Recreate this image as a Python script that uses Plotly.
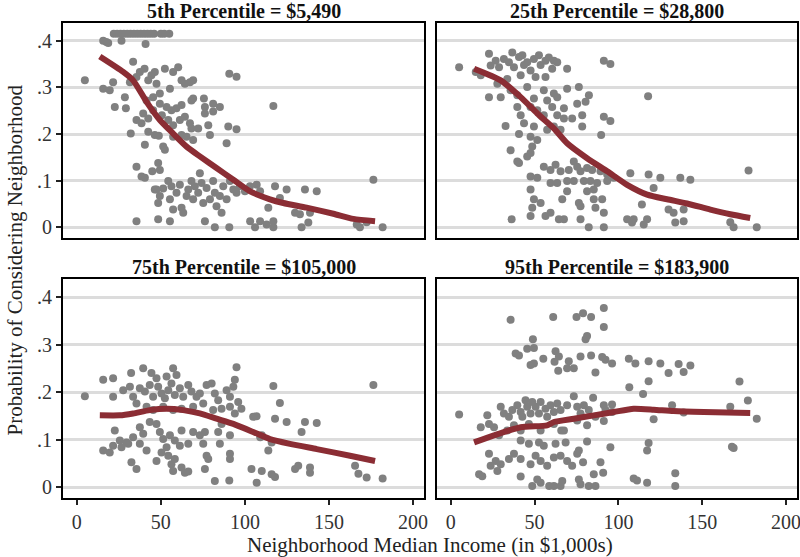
import plotly.graph_objects as go

# ---------------- data ----------------
panel_titles = ["5th Percentile = $5,490", "25th Percentile = $28,800",
                "75th Percentile = $105,000", "95th Percentile = $183,900"]

x_ticks = [0, 50, 100, 150, 200]
y_ticks = [0, 0.1, 0.2, 0.3, 0.4]
y_tick_labels = ["0", ".1", ".2", ".3", ".4"]

# scatter points (neighborhood median income in $1,000s, probability)
p5_points = [
    (22, .415), (24, .415), (26, .415), (28, .415), (30, .415), (32, .415), (34, .415), (36, .415),
    (38, .415), (40, .415), (42, .415), (44, .415), (46, .415), (50, .415), (52, .415), (55, .415),
    (15.7, .40), (17.6, .397), (18.7, .395), (26.6, .40), (40.9, .393), (4.8, .315), (33.5, .355),
    (15.7, .297), (19.6, .294), (21.6, .311), (22.6, .258), (28.6, .279), (29.2, .255), (31.6, .311),
    (35.5, .322), (37.5, .333), (40.3, .34), (42.5, .315), (44.4, .326), (46.4, .333), (47.4, .308),
    (49.4, .287), (52.4, .34), (55.4, .297), (57.3, .333), (60.3, .343), (62.3, .315), (64.3, .308),
    (67.3, .311), (69.2, .315), (41.5, .272), (45.4, .279), (49.4, .265), (53.4, .258), (56.3, .251),
    (59.3, .255), (62.3, .262), (68.2, .272), (69.2, .276), (75.6, .276), (76.2, .258), (81.1, .265),
    (85.1, .258), (90.7, .329), (95, .323), (116.9, .26), (39.5, .244), (42.5, .233), (45.4, .251),
    (50.6, .240), (54.4, .230), (57.3, .219), (61.3, .230), (64.3, .237), (67.3, .223), (68.2, .212),
    (72.2, .212), (76.2, .244), (78.2, .219), (79.2, .198), (81.1, .248), (90.1, .216), (95, .21),
    (89.1, .18), (32.1, .201), (35.5, .230), (38.5, .223), (42.5, .205), (46.4, .198), (48.8, .196),
    (57.3, .194), (62.3, .198), (65.3, .194), (69.2, .187), (40.5, .177), (51.4, .173), (52.4, .166),
    (35.5, .130), (38.5, .109), (40.5, .106), (44.9, .12), (48.4, .138), (49.4, .123), (73.2, .116),
    (47.4, .081), (49.4, .067), (48.4, .052), (51.4, .083), (54.4, .099), (55.4, .060), (56.3, .088),
    (57.3, .038), (59.3, .074), (61.3, .091), (62.3, .042), (63.3, .031), (65.3, .067), (66.3, .081),
    (68.2, .099), (69.2, .060), (70.2, .088), (72.2, .074), (74.2, .095), (75.2, .052), (77.2, .084),
    (79.2, .060), (81.1, .099), (82.1, .074), (83.1, .045), (85.1, .067), (86.1, .031), (87.1, .088),
    (89.1, .060), (91.1, .099), (93.1, .081), (95, .074), (97, .088), (100, .077), (103, .088),
    (107, .091), (109, .077), (113.9, .042), (117.9, .088), (120.8, .063), (124.8, .081), (129.8, .031),
    (132.7, .028), (135.7, .081), (138.7, .031), (142.7, .077), (176.4, .102), (46.4, .081),
    (35.5, .013), (48.4, .017), (55.4, .013), (76.2, .013), (82.1, 0), (90.7, 0), (103.1, .013),
    (106, 0), (109, .013), (112.9, .006), (116.9, .013), (116.9, 0), (133.7, 0), (137.7, .01),
    (166.5, .006), (168.4, 0), (172.4, .011), (181.9, 0),
]
p25_points = [
    (5, .343), (14.9, .333), (17.9, .326), (22.8, .372), (23.8, .347), (26.8, .357), (28.8, .343),
    (31.7, .361), (34.7, .354), (36.7, .375), (37.7, .343), (40.7, .365), (42.7, .369), (43.7, .348),
    (45.6, .354), (47.6, .336), (49.6, .361), (52.6, .369), (53.6, .348), (56.5, .357), (58.5, .364),
    (60.5, .340), (61.5, .357), (63.5, .354), (69.4, .340), (91.3, .357), (95.2, .350), (27.8, .308),
    (33.7, .318), (41.7, .326), (50.6, .322), (56.5, .322), (22.8, .279), (29.8, .279), (35.7, .294),
    (39.7, .283), (45.6, .301), (49.6, .276), (55.5, .294), (57.5, .272), (61.5, .287), (63.5, .279),
    (69.4, .297), (76.4, .301), (80.4, .269), (82.4, .283), (117.7, .281), (39.7, .258), (41.7, .240),
    (47.6, .258), (51.6, .251), (55.5, .240), (60.5, .258), (63.5, .240), (67.5, .255), (67.5, .233),
    (72.4, .233), (75.4, .265), (78.4, .240), (78.4, .216), (32.7, .217), (43.7, .223), (49.6, .216),
    (57.5, .209), (61.5, .216), (65.5, .209), (91.3, .237), (95.2, .228), (89.7, .198), (40.7, .200),
    (47.6, .194), (51.6, .187), (48.6, .173), (47.6, .159), (45.6, .152), (35.7, .165), (39.7, .141),
    (40.7, .138), (73.4, .141), (55.5, .130), (59.5, .123), (62.5, .134), (65.5, .120), (70.4, .123),
    (75.4, .130), (77.4, .120), (81.3, .127), (84.3, .123), (89.3, .120), (93.3, .113), (97.2, .106),
    (107.1, .116), (118, .113), (125, .106), (136.9, .106), (142.9, .102), (177.6, .122), (47.6, .109),
    (51.6, .106), (59.5, .095), (63.5, .095), (69.4, .099), (73.4, .099), (79.4, .099), (83.3, .099),
    (87.3, .095), (93.3, .099), (47.6, .081), (69.4, .077), (81.3, .077), (85.3, .081), (121, .084),
    (49.6, .060), (53.6, .052), (66.5, .060), (76.4, .052), (85.3, .060), (90.3, .060), (48.6, .042),
    (77.4, .045), (86.3, .042), (114, .049), (129.9, .038), (132.9, .031), (138.9, .038), (47.6, .024),
    (56.5, .024), (59.5, .031), (64.5, .017), (67.5, .017), (77.4, .017), (91.3, .031), (105.2, .017),
    (109.1, .017), (117.1, .017), (133.9, .01), (138.9, .013), (166.7, .011), (168.7, 0), (182.5, 0),
    (36.3, .017), (82.3, 0), (91.3, 0), (108.1, .01), (115.1, .006),
]
p75_points = [
    (4.8, .191), (15.7, .226), (21.6, .229), (32.3, .240), (39.5, .250), (44.4, .240), (47.4, .229),
    (53.4, .233), (57.3, .250), (59.3, .236), (95, .252), (94, .226), (116.9, .213), (176.4, .215),
    (21.6, .19), (27.6, .204), (31.6, .211), (33.5, .19), (37.5, .208), (40.5, .201), (43.4, .215),
    (45.4, .19), (48.4, .211), (50.4, .197), (52.4, .187), (54.4, .204), (56.3, .218), (58.3, .194),
    (61.3, .208), (63.3, .19), (66.3, .215), (68.2, .201), (71.2, .19), (73.2, .197), (77.2, .215),
    (80.2, .218), (82.1, .197), (84.1, .183), (89.1, .204), (91.1, .19), (93.1, .211), (35.5, .176),
    (41.5, .169), (45.4, .162), (51.4, .169), (57.3, .162), (62.3, .165), (69.2, .169), (75.2, .176),
    (81.1, .162), (86.1, .165), (91.1, .169), (96, .179), (97.9, .165), (94, .155), (104.9, .148),
    (106.9, .149), (117.9, .144), (120.8, .177), (124.8, .137), (135.7, .137), (142.7, .135),
    (22.6, .119), (25.6, .098), (29.6, .094), (33.5, .105), (37.5, .126), (39.5, .112), (43.4, .137),
    (47.4, .133), (49.4, .116), (51.4, .101), (55.4, .109), (58.3, .098), (62.3, .119), (66.3, .091),
    (69.2, .116), (73.2, .109), (76.2, .116), (84.1, .116), (86.1, .133), (91.1, .109), (109.1, .105),
    (110, .109), (133.7, .116), (15.7, .077), (19.6, .073), (21.6, .087), (26.6, .084), (30.6, .091),
    (37.5, .091), (41.5, .077), (47.4, .055), (50.4, .073), (53.4, .084), (54.4, .066), (58.3, .059),
    (61.3, .087), (75.2, .091), (77.2, .066), (78.2, .059), (85.1, .091), (91.1, .070), (91.1, .059),
    (113.9, .077), (115.9, .094), (32.5, .052), (35.5, .038), (56.3, .048), (57.3, .034), (62.3, .041),
    (64.3, .030), (66.3, .033), (76.2, .038), (82.1, .013), (90.7, .014), (103.9, .038), (107, .009),
    (110, .034), (115.9, .027), (117.9, .021), (129.8, .038), (131.7, .045), (138.7, .041),
    (138.7, .030), (165.5, .045), (167.5, .028), (172.4, .020), (181.9, .018),
]
p95_points = [
    (35.7, .352), (61.1, .358), (75, .358), (78.9, .366), (83.7, .358), (91.3, .377), (91.3, .337),
    (81.3, .318), (80.4, .311), (49, .311), (49.6, .293), (45.6, .291), (38.7, .281), (40.7, .277),
    (47.6, .257), (49.6, .26), (55.2, .27), (62.5, .286), (61.9, .264), (64.5, .275), (64.1, .245),
    (69.4, .25), (70.4, .265), (73.4, .25), (77.4, .275), (83.7, .277), (86.3, .241), (90.3, .274),
    (92.3, .268), (96.2, .26), (106.2, .27), (110.1, .26), (118, .265), (125, .26), (135.9, .259),
    (142.9, .256), (129.9, .24), (138.9, .242), (106.5, .21), (118, .223), (114.7, .196), (172.2, .222),
    (177.2, .182), (5, .153), (17.9, .126), (21.8, .151), (22.8, .133), (29.8, .169), (31.7, .155),
    (34.7, .148), (36.7, .162), (39.7, .172), (41.7, .158), (42.7, .148), (44.6, .183), (45.6, .169),
    (47.6, .155), (48.6, .179), (50.6, .169), (52.6, .155), (53.6, .179), (56.5, .165), (57.5, .148),
    (59.5, .172), (61.5, .158), (63.5, .176), (65.5, .162), (69.4, .172), (73.4, .191), (75.4, .169),
    (77.4, .155), (79.4, .172), (82.3, .162), (84.9, .188), (86.3, .148), (91.3, .172), (92.3, .162),
    (96.2, .174), (96.2, .158), (91.3, .139), (121, .143), (132, .172), (138.9, .157), (166.7, .169),
    (182.5, .144), (25.8, .126), (28.8, .109), (33.7, .119), (37.7, .13), (41.7, .119), (46.6, .133),
    (53.6, .119), (61.5, .133), (67.5, .119), (75.4, .14), (81.3, .13), (65.9, .119), (41.7, .098),
    (46.6, .091), (52.6, .094), (55.5, .087), (62.5, .091), (68.5, .094), (76.4, .077), (81.3, .096),
    (95.2, .084), (118, .093), (117.1, .077), (167.7, .085), (168.7, .082), (22.8, .07), (26.8, .055),
    (29.8, .048), (34.7, .059), (37.7, .07), (41.7, .059), (47.6, .048), (50.6, .066), (53.6, .055),
    (57.5, .045), (61.5, .062), (65.5, .066), (69.4, .055), (72.4, .045), (75.4, .07), (78.9, .052),
    (89.3, .052), (16.9, .027), (18.8, .023), (23.8, .045), (27.8, .034), (41.7, .022), (51.6, .016),
    (48.6, .002), (53.6, .009), (58.7, .002), (61.5, .002), (65.5, .002), (66.5, .013), (76.4, .016),
    (77.4, .006), (82.3, .002), (86.3, .002), (85.3, .027), (90.9, .03), (109.1, .018), (111.1, .014),
    (117.1, .009), (133.9, .029), (133.9, .002),
]

# smoothed (lowess-style) fit lines
p5_fit_x = [13.7, 27.6, 33.5, 41.5, 49.4, 57.3, 65.3, 73.2, 83.1, 93.1, 103.1, 114.9, 122.8, 136.7, 152.6, 164.5, 177.4]
p5_fit_y = [.366, .333, .315, .269, .23, .201, .173, .152, .127, .102, .077, .06, .052, .042, .029, .018, .013]
p25_fit_x = [13.9, 29.8, 41.7, 51.6, 61.5, 69.4, 81.3, 93.3, 105.2, 117.1, 129, 140.9, 154.8, 166.7, 178.6]
p25_fit_y = [.34, .315, .279, .244, .212, .18, .148, .12, .091, .070, .06, .051, .038, .028, .02]
p75_fit_x = [13.7, 25.6, 33.5, 43.4, 53.4, 63.3, 73.2, 83.1, 93.1, 104.9, 114.9, 126.8, 142.7, 162.5, 177.4]
p75_fit_y = [.151, .151, .155, .162, .165, .162, .155, .144, .133, .116, .101, .091, .080, .066, .055]
p95_fit_x = [13.9, 25.8, 41.7, 57.5, 61.5, 73.4, 85.3, 97.2, 109.1, 121, 132.9, 150.8, 178.6]
p95_fit_y = [.094, .109, .126, .13, .137, .144, .151, .158, .165, .163, .16, .158, .156]

x_title = "Neighborhood Median Income (in $1,000s)"
y_title = "Probability of Considering Neighborhood"

# ---------------- figure ----------------
panels = [
    (p5_points, p5_fit_x, p5_fit_y),
    (p25_points, p25_fit_x, p25_fit_y),
    (p75_points, p75_fit_x, p75_fit_y),
    (p95_points, p95_fit_x, p95_fit_y),
]

SERIF = "Liberation Serif, Times New Roman, serif"
DOT = "#808080"
LINE = "#8B2D34"
GRID = "#DCDCDC"

fig = go.Figure()
for i, (pts, fx, fy) in enumerate(panels):
    ax = "" if i == 0 else str(i + 1)
    fig.add_trace(go.Scatter(
        x=[p[0] for p in pts], y=[p[1] for p in pts], mode="markers",
        marker=dict(size=8, color=DOT, line=dict(width=0)),
        xaxis="x" + ax, yaxis="y" + ax, showlegend=False, hoverinfo="skip"))
    fig.add_trace(go.Scatter(
        x=fx, y=fy, mode="lines", line=dict(color=LINE, width=6, shape="spline", smoothing=0.6),
        xaxis="x" + ax, yaxis="y" + ax, showlegend=False, hoverinfo="skip"))

W, H = 800, 557
ml, mr, mt, mb = 63, 3, 23, 59
pw = W - ml - mr
ph = H - mt - mb
xd = [[0, (424 - 63) / pw], [(437 - 63) / pw, 1]]
yd = [[(498 - 238) / ph, 1], [0, (498 - 279) / ph]]

xr = [-8.2, 206.5]
yr = [-0.023, 0.438]

TICKFONT = dict(family=SERIF, size=20, color="#333333")
layout = dict(
    width=W, height=H, margin=dict(l=ml, r=mr, t=mt, b=mb, autoexpand=False),
    paper_bgcolor="white", plot_bgcolor="white",
    font=dict(family=SERIF, size=20, color="#222222"),
)
for i in range(4):
    r, c = divmod(i, 2)
    ax = "" if i == 0 else str(i + 1)
    bottom = r == 1
    left = c == 0
    layout["xaxis" + ax] = dict(
        domain=xd[c], range=xr, anchor="y" + ax,
        tickvals=x_ticks, showticklabels=bottom, ticks="outside" if bottom else "",
        ticklen=5, tickwidth=1.5, tickcolor="#222222", ticklabeloverflow="allow",
        showgrid=False, zeroline=False, showline=True, mirror=True,
        linecolor="black", linewidth=2, fixedrange=True, tickfont=TICKFONT)
    layout["yaxis" + ax] = dict(
        domain=yd[r], range=yr, anchor="x" + ax,
        tickvals=y_ticks, ticktext=y_tick_labels, showticklabels=left,
        ticks="outside" if left else "", ticklen=5, tickwidth=1.5, tickcolor="#222222",
        showgrid=True, gridcolor=GRID, gridwidth=2.5, zeroline=False,
        showline=True, mirror=True, linecolor="black", linewidth=2, fixedrange=True,
        tickfont=TICKFONT)
fig.update_layout(**layout)

annotations = []
for i, t in enumerate(panel_titles):
    r, c = divmod(i, 2)
    annotations.append(dict(
        text="<b>" + t + "</b>", xref="paper", yref="paper",
        x=(xd[c][0] + xd[c][1]) / 2, y=yd[r][1], xanchor="center", yanchor="bottom",
        yshift=-1, showarrow=False, font=dict(family=SERIF, size=20, color="#111111")))
annotations.append(dict(
    text=x_title, xref="paper", yref="paper", x=0.5, y=0, xanchor="center", yanchor="top",
    yshift=-33, showarrow=False, font=dict(family=SERIF, size=21, color="#222222")))
annotations.append(dict(
    text=y_title, xref="paper", yref="paper", x=0, y=0.5, xanchor="center", yanchor="middle",
    xshift=-49, textangle=-90, showarrow=False, font=dict(family=SERIF, size=21, color="#222222")))
fig.update_layout(annotations=annotations)

fig.write_html("out.html", config={"displayModeBar": False},
               post_script="document.body.style.margin='0px';document.body.style.overflow='hidden';")
